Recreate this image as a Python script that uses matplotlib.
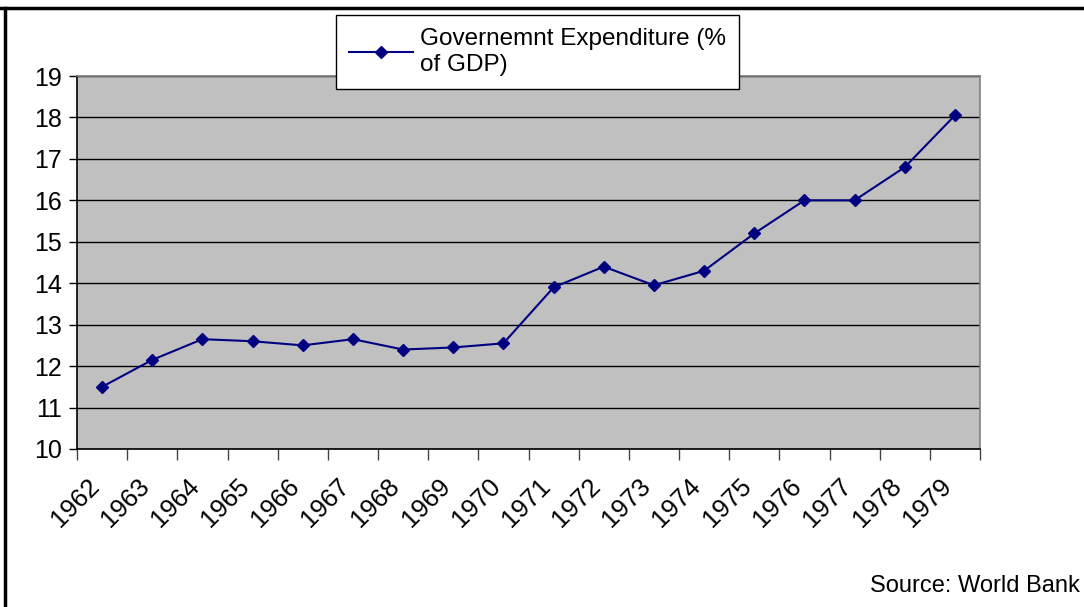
import matplotlib.pyplot as plt
import matplotlib.transforms as mtransforms
import numpy as np
from matplotlib.lines import Line2D

plt.rcParams["font.family"] = ["Liberation Sans", "DejaVu Sans"]

years = [str(y) for y in range(1962, 1980)]
expenditure = [11.5, 12.15, 12.65, 12.6, 12.5, 12.65, 12.4, 12.45, 12.55,
               13.9, 14.4, 13.95, 14.3, 15.2, 16.0, 16.0, 16.8, 18.05]
y_ticks = list(range(10, 20))

fig = plt.figure(figsize=(10.84, 6.07), dpi=100)
ax = fig.add_axes([77 / 1084, 1 - 449 / 607, 903 / 1084, 373 / 607])
ax.set_facecolor("#C0C0C0")

x = np.arange(len(years))
line, = ax.plot(x, expenditure, color="#000080", linewidth=1.5,
                marker="D", markersize=6.5, markerfacecolor="#000080",
                markeredgecolor="#000080",
                label="Governemnt Expenditure (%\nof GDP)")

ax.set_xlim(-0.5, len(years) - 0.5)
ax.set_ylim(10, 19)
ax.set_yticks(y_ticks)
ax.yaxis.grid(True, color="black", linewidth=1)
ax.set_axisbelow(True)

# category ticks at the slot borders, labels at the centres
ax.set_xticks(np.arange(-0.5, len(years), 1.0))
ax.set_xticklabels([])
ax.set_xticks(x, minor=True)
ax.set_xticklabels(years, minor=True, rotation=45, ha="right", va="center",
                   rotation_mode="anchor", fontsize=18.5)
ax.tick_params(axis="x", which="minor", length=0, pad=24)
ax.tick_params(axis="x", which="major", length=8, width=1, color="#444444")
ax.tick_params(axis="y", length=6, width=1, labelsize=18, pad=5)
shift = mtransforms.ScaledTranslation(-7 / 100, 0, fig.dpi_scale_trans)
for lab in ax.get_xticklabels(minor=True):
    lab.set_transform(lab.get_transform() + shift)

for side in ["left", "bottom"]:
    ax.spines[side].set_color("black")
    ax.spines[side].set_linewidth(1.2)
for side in ["top", "right"]:
    ax.spines[side].set_color("#808080")
    ax.spines[side].set_linewidth(1.2)

leg = ax.legend(handles=[line], loc="upper left",
                bbox_to_anchor=(336 / 1084, 1 - 15 / 607),
                bbox_transform=fig.transFigure, fontsize=17.5, frameon=True,
                fancybox=False, edgecolor="black", framealpha=1,
                handlelength=2.6, borderpad=0.55, labelspacing=0.2,
                handletextpad=0.3, borderaxespad=0)
leg.get_frame().set_linewidth(1)

fig.text(1080 / 1084, 1 - 586 / 607, "Source: World Bank", ha="right",
         va="center", fontsize=17)

# outer chart frame (top and left edges visible)
fig.add_artist(Line2D([0, 1], [1 - 8 / 607, 1 - 8 / 607], color="black",
                      linewidth=2.5, transform=fig.transFigure))
fig.add_artist(Line2D([5 / 1084, 5 / 1084], [0, 1 - 8 / 607], color="black",
                      linewidth=2.5, transform=fig.transFigure))

fig.savefig("out.png", dpi=100)
